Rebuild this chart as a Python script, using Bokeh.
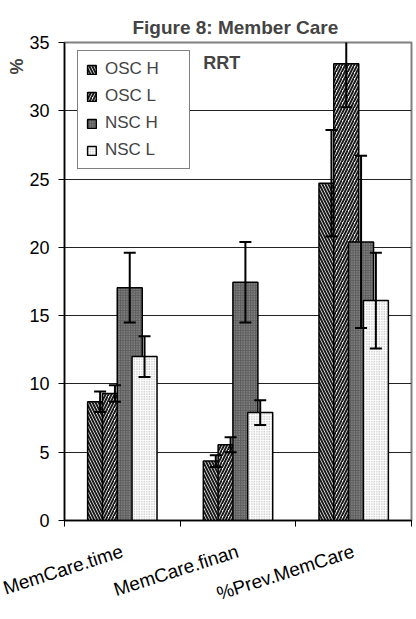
import numpy as np
from bokeh.plotting import figure
from bokeh.models import (Range1d, FixedTicker, ColumnDataSource, Legend, LegendItem, Label, Title)
from bokeh.embed import file_html
from bokeh.resources import INLINE

# ---- data ----
categories = ["MemCare.time", "MemCare.finan", "%Prev.MemCare"]
series_names = ["OSC H", "OSC L", "NSC H", "NSC L"]
osc_h = [8.7, 4.35, 24.7]
osc_h_err = [0.75, 0.43, 3.9]
osc_l = [9.3, 5.55, 33.45]
osc_l_err = [0.6, 0.55, 3.2]
nsc_h = [17.05, 17.45, 20.4]
nsc_h_err = [2.55, 2.95, 6.3]
nsc_l = [12.0, 7.9, 16.1]
nsc_l_err = [1.5, 0.9, 3.5]
y_ticks = [0, 5, 10, 15, 20, 25, 30, 35]

values = [osc_h, osc_l, nsc_h, nsc_l]
errors = [osc_h_err, osc_l_err, nsc_h_err, nsc_l_err]

FONT = "Liberation Sans"

p = figure(width=413, height=617, output_backend="svg", toolbar_location=None,
           x_range=Range1d(0, len(categories)), y_range=Range1d(0, 35),
           min_border_left=64, min_border_right=2, min_border_top=42, min_border_bottom=96)

p.title.text = "Figure 8:  Member Care"
p.title.align = "center"
p.title.text_font = FONT
p.title.text_font_size = "19px"
p.title.text_font_style = "bold"

p.outline_line_color = "#808080"
p.outline_line_width = 2
p.background_fill_color = "white"
p.border_fill_color = "white"

# grid
p.xgrid.visible = False
p.ygrid.ticker = FixedTicker(ticks=y_ticks)
p.ygrid.grid_line_color = "#222222"
p.ygrid.grid_line_width = 1

# y axis
ya = p.yaxis[0]
ya.ticker = FixedTicker(ticks=y_ticks)
ya.axis_line_color = "black"
ya.axis_line_width = 1.5
ya.major_tick_out = 6
ya.major_tick_in = 0
ya.major_tick_line_color = "black"
ya.minor_tick_line_color = None
ya.major_label_text_font = FONT
ya.major_label_text_font_size = "18px"
ya.major_label_text_color = "black"
ya.major_label_standoff = 9

# x axis
centers = np.arange(len(categories)) + 0.5
xa = p.xaxis[0]
xa.ticker = FixedTicker(ticks=list(centers), minor_ticks=list(np.arange(len(categories) + 1)))
xa.major_label_overrides = {float(c): lab for c, lab in zip(centers, categories)}
xa.major_tick_line_color = None
xa.major_tick_out = 0
xa.major_tick_in = 0
xa.minor_tick_line_color = "black"
xa.minor_tick_out = 6
xa.minor_tick_in = 0
xa.axis_line_color = "black"
xa.axis_line_width = 1.5
xa.major_label_orientation = 0.31
xa.major_label_text_font = FONT
xa.major_label_text_font_size = "19px"
xa.major_label_text_color = "black"
xa.major_label_standoff = 24

# bars
bar_w = 0.216
step = 0.128
offsets = [-1.5 * step, -0.5 * step, 0.5 * step, 1.5 * step]
styles = [
    dict(fill_color="white", hatch_pattern="left_diagonal_line", hatch_color="#1a1a1a", hatch_scale=6, hatch_weight=2),
    dict(fill_color="white", hatch_pattern="right_diagonal_line", hatch_color="#1a1a1a", hatch_scale=6, hatch_weight=2),
    dict(fill_color="#5e5e5e", hatch_pattern=".", hatch_color="#a8a8a8", hatch_scale=2.5, hatch_weight=1.0),
    dict(fill_color="white", hatch_pattern=".", hatch_color="#a0a0a0", hatch_scale=2.5, hatch_weight=1.0),
]

renderers = []
err_sources = []
for name, vals, errs, off, st in zip(series_names, values, errors, offsets, styles):
    xs = centers + off
    src = ColumnDataSource(dict(x=xs, top=vals))
    r = p.vbar(x="x", top="top", width=bar_w, bottom=0, source=src,
               line_color="black", line_width=1.5, **st)
    renderers.append(r)
    err_sources.append(ColumnDataSource(dict(
        x=xs,
        upper=[v + e for v, e in zip(vals, errs)],
        lower=[v - e for v, e in zip(vals, errs)])))

# error bars on top
for es in err_sources:
    p.segment(x0="x", y0="lower", x1="x", y1="upper", source=es, line_color="black", line_width=2)
    p.scatter(x="x", y="upper", source=es, marker="dash", size=12, line_color="black", line_width=2)
    p.scatter(x="x", y="lower", source=es, marker="dash", size=12, line_color="black", line_width=2)

legend = Legend(items=[LegendItem(label=n, renderers=[r]) for n, r in zip(series_names, renderers)],
                location=(13, 351))
legend.border_line_color = "black"
legend.border_line_width = 1
legend.background_fill_color = "white"
legend.background_fill_alpha = 1
legend.label_text_font = FONT
legend.label_text_font_size = "17px"
legend.glyph_width = 11
legend.glyph_height = 11
legend.label_standoff = 8
legend.label_width = 76
legend.label_height = 18
legend.spacing = 7
legend.padding = 8
legend.margin = 0
p.add_layout(legend, "center")

p.add_layout(Label(x=1.20, y=33.5, text="RRT", text_font=FONT, text_font_size="18px",
                   text_font_style="bold", text_align="left", text_baseline="middle"))

ytitle = Title(text="%", align="right", offset=16, text_font=FONT, text_font_size="18px",
               text_font_style="bold", standoff=0)
p.add_layout(ytitle, "left")

open("out.html", "w").write(file_html(p, INLINE))
